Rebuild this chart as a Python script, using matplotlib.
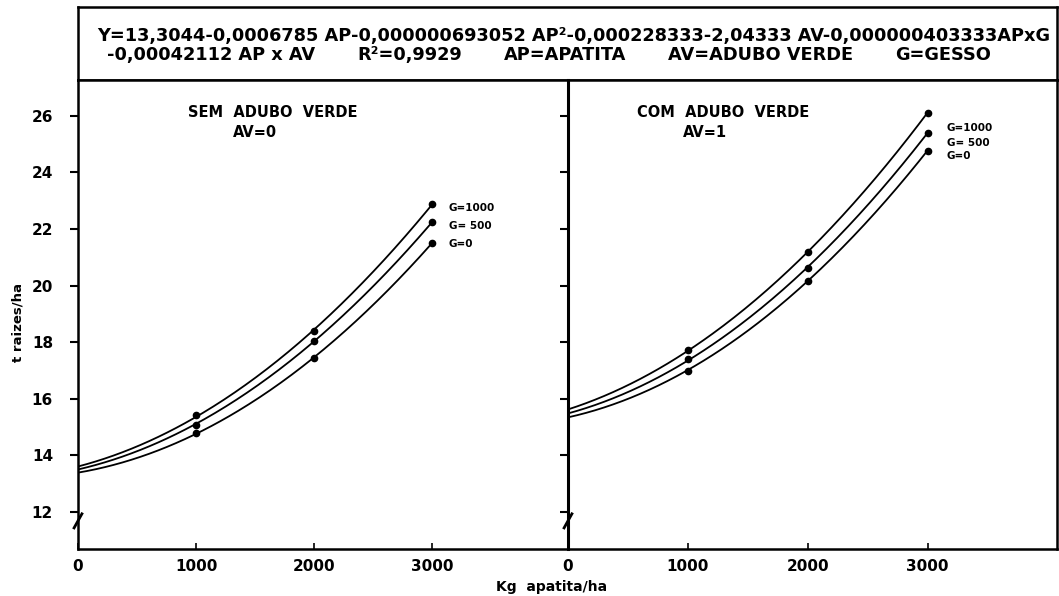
import numpy as np
import matplotlib
matplotlib.use("Agg")
import matplotlib.pyplot as plt

# Data (t raizes/ha)
apatita = [0, 1000, 2000, 3000]
sem_av = {
    "G=1000": [13.59, 15.41, 18.40, 22.89],
    "G= 500": [13.51, 15.09, 18.06, 22.24],
    "G=0": [13.38, 14.79, 17.44, 21.52],
}
com_av = {
    "G=1000": [15.62, 17.71, 21.18, 26.12],
    "G= 500": [15.47, 17.39, 20.62, 25.41],
    "G=0": [15.35, 17.00, 20.18, 24.77],
}
yticks = [12, 14, 16, 18, 20, 22, 24, 26]
xticks = [0, 1000, 2000, 3000]

eq_line1 = ("Y=13,3044-0,0006785 AP-0,000000693052 AP²-0,000228333-2,04333 AV"
            "-0,000000403333APxG")
eq_parts2 = ["-0,00042112 AP x AV", "R²=0,9929", "AP=APATITA",
             "AV=ADUBO VERDE", "G=GESSO"]

W, H = 1059, 596
plt.rcParams["font.family"] = "DejaVu Sans"
fig = plt.figure(figsize=(W / 100, H / 100), dpi=100)


def fx(px):
    return px / W


def fy(py):
    return 1 - py / H


# header box with the regression equation
hdr = fig.add_axes([fx(78), fy(80), fx(1057) - fx(78), fy(7) - fy(80)])
hdr.set_xticks([])
hdr.set_yticks([])
for s in hdr.spines.values():
    s.set_linewidth(1.8)

t1 = fig.text(fx(97), fy(36), eq_line1, fontsize=11, va="center", ha="left",
              fontweight="bold")
fig.canvas.draw()
w = t1.get_window_extent().width
fs_eq = 11 * 953 / w
t1.set_fontsize(fs_eq)

# second line: parts placed one after another with a gap
xp = 107
for part in eq_parts2:
    t = fig.text(fx(xp), fy(55), part, fontsize=fs_eq, va="center",
                 ha="left", fontweight="bold")
    fig.canvas.draw()
    xp += t.get_window_extent().width + 42

ax1 = fig.add_axes([fx(78), fy(549), fx(568) - fx(78), fy(80) - fy(549)])
ax2 = fig.add_axes([fx(568), fy(549), fx(1057) - fx(568), fy(80) - fy(549)])

panels = [
    (ax1, sem_av, 4150, "SEM  ADUBO  VERDE", "AV=0", (0.397, 0.362),
     3140, [22.76, 22.11, 21.48]),
    (ax2, com_av, 4080, "COM  ADUBO  VERDE", "AV=1", (0.318, 0.281),
     3160, [25.57, 25.06, 24.59]),
]

xs = np.linspace(0, 3000, 200)
for ax, series, xmax, title, sub, tx, lx, ly in panels:
    for (name, vals), yl in zip(series.items(), ly):
        coef = np.polyfit(apatita, vals, 2)
        ax.plot(xs, np.polyval(coef, xs), color="black", lw=1.3)
        ax.plot(apatita[1:], vals[1:], "o", color="black", ms=4.5)
        ax.text(lx, yl, name, fontsize=7.5, fontweight="bold", va="center")
    ax.set_xlim(0, xmax)
    ax.set_ylim(10.69, 27.27)
    ax.set_xticks(xticks)
    ax.set_yticks(yticks)
    ax.tick_params(axis="x", direction="in", length=4, width=1.2,
                   labelsize=11, pad=7)
    ax.tick_params(axis="y", direction="out", length=6, width=1.5,
                   labelsize=11, pad=12)
    for lab in ax.get_xticklabels() + ax.get_yticklabels():
        lab.set_fontweight("bold")
    for s in ax.spines.values():
        s.set_linewidth(1.8)
    ax.text(tx[0], 0.93, title, transform=ax.transAxes, ha="center",
            va="center", fontsize=10.5, fontweight="bold")
    ax.text(tx[1], 0.889, sub, transform=ax.transAxes, ha="center",
            va="center", fontsize=10.5, fontweight="bold")
    # axis break mark on the y axis
    ax.plot([-0.008, 0.008], [0.045, 0.075], transform=ax.transAxes,
            color="black", lw=2, clip_on=False)

ax2.tick_params(axis="y", labelleft=False)
ax2.spines["left"].set_linewidth(2.2)

fig.text(fx(18), fy(322), "t raizes/ha", rotation=90, ha="center",
         va="center", fontsize=9.5, fontweight="bold")
fig.text(fx(552), fy(587), "Kg  apatita/ha", ha="center", va="center",
         fontsize=10, fontweight="bold")

fig.savefig("out.png", dpi=100)
